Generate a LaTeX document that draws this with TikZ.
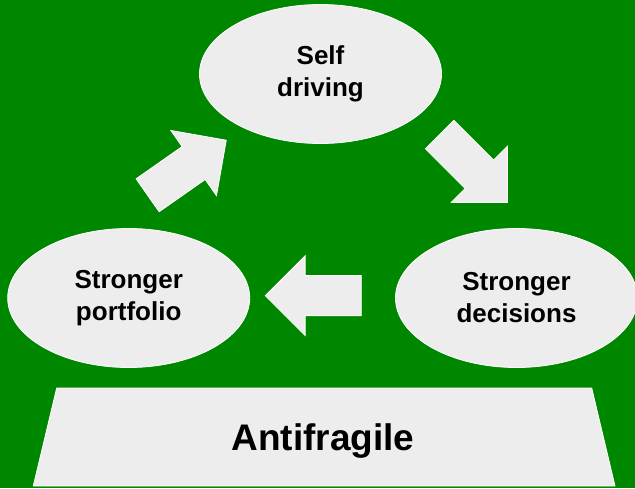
\documentclass[tikz,border=0pt]{standalone}
\usepackage{fontspec}
\setmainfont{Liberation Sans}
\usepackage{tikz,xcolor}
\usetikzlibrary{shapes.geometric, shapes.arrows, positioning}

\begin{document}
\begin{tikzpicture}[x=1pt, y=-1pt]

\definecolor{bgcolor}{rgb}{0.0, 0.53, 0.0}
\definecolor{boxcolor}{rgb}{0.93, 0.93, 0.93}

\tikzstyle{cycle} = [ellipse, draw=white, fill=boxcolor, thick, minimum width=242pt, minimum height=139pt, inner sep=0pt, align=center, font=\bfseries\fontsize{26}{32}\selectfont]
\tikzstyle{block} = [single arrow, draw=white, fill=boxcolor, thick, minimum height=96pt, inner xsep=0pt, inner ysep=19.7pt, single arrow head extend=19.7pt, anchor=tail]
\tikzstyle{base} = [draw=white, fill=boxcolor, thick]

% background
\fill[bgcolor] (0,0) rectangle (635,488);
\useasboundingbox (0,0) rectangle (635,488);

\node[cycle] (SD) at (320.5,74) {Self\\driving};
\node[cycle] (SP) at (128.7,298) {Stronger\\portfolio};
\node[cycle] (DE) at (516.5,298) {Stronger\\decisions};

\node[block, rotate=35] (A1) at (147.3,195.5) {};
\node[block, rotate=-45] (A2) at (439.4,134.2) {};
\node[block, rotate=180] (A3) at (361.7,295.7) {};

\draw[base] (56.7,388) -- (591.7,388) -- (615,486) -- (33.3,486) -- cycle;
\node[font=\bfseries\fontsize{37}{40}\selectfont] (AF) at (323,441) {Antifragile};

\end{tikzpicture}
\end{document}
